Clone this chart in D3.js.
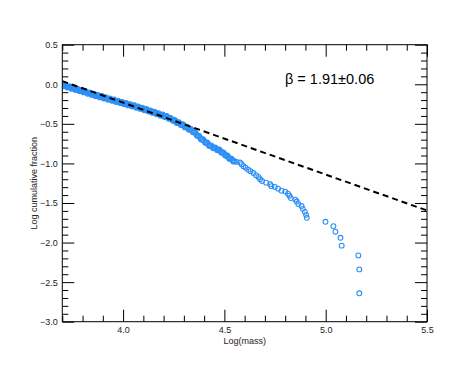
<!DOCTYPE html>
<html><head><meta charset="utf-8">
<script src="https://cdn.jsdelivr.net/npm/d3@7"></script>
<style>
html,body{margin:0;padding:0;background:#fff;}
svg{display:block;font-family:"Liberation Sans",Arial,Helvetica,sans-serif;}
</style></head>
<body><svg id="chart" width="463" height="371"></svg>
<script>
// ---- data ----
const logMass = [
3.70,3.71,3.72,3.73,3.74,3.75,3.76,3.77,3.78,3.79,
3.80,3.81,3.82,3.83,3.84,3.85,3.86,3.87,3.88,3.89,
3.90,3.91,3.92,3.93,3.94,3.95,3.96,3.97,3.98,3.99,
4.00,4.01,4.02,4.03,4.04,4.05,4.06,4.07,4.08,4.09,
4.10,4.11,4.12,4.13,4.14,4.15,4.16,4.17,4.18,4.19,
4.20,4.21,4.22,4.23,4.24,4.25,4.26,4.27,4.28,4.29,
4.30,4.31,4.32,4.33,4.34,4.35,4.36,4.37,4.38,4.39,
4.40,4.41,4.42,4.43,4.44,4.45,4.46,4.47,4.48,4.49,
4.50,4.51,4.52,4.53,4.54,4.55,4.56,
4.577,4.585,4.594,4.605,4.618,4.629,4.643,4.656,4.668,4.676,
4.686,4.706,4.726,4.732,4.749,4.765,4.782,4.800,4.814,4.821,
4.828,4.850,4.857,4.865,4.881,4.887,4.897,4.903,4.907,4.999,
5.038,5.048,5.073,5.079,5.161,5.166,5.166
];
const logCumFraction = [
-0.010,-0.018,-0.025,-0.033,-0.041,-0.049,-0.056,-0.064,-0.072,-0.080,
-0.087,-0.095,-0.103,-0.111,-0.118,-0.126,-0.134,-0.142,-0.150,-0.157,
-0.164,-0.171,-0.179,-0.186,-0.193,-0.201,-0.208,-0.215,-0.222,-0.230,
-0.237,-0.244,-0.251,-0.259,-0.266,-0.273,-0.280,-0.288,-0.295,-0.303,
-0.312,-0.320,-0.329,-0.337,-0.346,-0.354,-0.363,-0.372,-0.380,-0.389,
-0.397,-0.406,-0.416,-0.430,-0.443,-0.457,-0.470,-0.484,-0.497,-0.511,
-0.525,-0.540,-0.555,-0.570,-0.585,-0.603,-0.627,-0.651,-0.676,-0.697,
-0.717,-0.738,-0.758,-0.778,-0.791,-0.803,-0.816,-0.829,-0.842,-0.862,
-0.881,-0.901,-0.921,-0.941,-0.960,-0.972,-0.980,
-0.989,-1.010,-1.035,-1.054,-1.079,-1.098,-1.121,-1.149,-1.171,-1.199,
-1.222,-1.243,-1.264,-1.287,-1.297,-1.319,-1.344,-1.356,-1.382,-1.407,
-1.438,-1.457,-1.482,-1.514,-1.539,-1.574,-1.612,-1.650,-1.688,-1.738,
-1.792,-1.863,-1.940,-2.039,-2.162,-2.339,-2.641
];
// extra points in the crowded low-mass part of the distribution
const denseMass = [
3.705,3.715,3.725,3.735,3.745,3.755,3.765,3.775,3.785,3.795,
3.805,3.815,3.825,3.835,3.845,3.855,3.865,3.875,3.885,3.895,
3.905,3.915,3.925,3.935,3.945,3.955,3.965,3.975,3.985,3.995,
4.005,4.015,4.025,4.035,4.045,4.055,4.065,4.075,4.085,4.095,
4.105,4.115,4.125,4.135,4.145,4.155,4.165,4.175,4.185,4.195,
4.205,4.215,4.225,4.235,4.245,4.255,4.265,4.275,4.285,4.295,
4.305,4.315,4.325,4.335,4.345,4.355,4.365,4.375,4.385,4.395,
4.405,4.415,4.425,4.435,4.445,4.455,4.465,4.475,4.485,4.495,
4.505,4.515,4.525,4.535,4.545
];
const denseFraction = [
-0.026,-0.010,-0.041,-0.025,-0.057,-0.041,-0.072,-0.056,-0.088,-0.072,
-0.103,-0.087,-0.119,-0.103,-0.134,-0.118,-0.150,-0.134,-0.166,-0.149,
-0.180,-0.163,-0.195,-0.178,-0.209,-0.193,-0.224,-0.207,-0.238,-0.222,
-0.253,-0.236,-0.267,-0.251,-0.282,-0.265,-0.296,-0.280,-0.311,-0.296,
-0.328,-0.313,-0.345,-0.330,-0.362,-0.347,-0.380,-0.364,-0.397,-0.381,
-0.414,-0.399,-0.435,-0.425,-0.462,-0.452,-0.489,-0.479,-0.516,-0.506,
-0.545,-0.536,-0.575,-0.566,-0.606,-0.603,-0.651,-0.652,-0.699,-0.695,
-0.740,-0.736,-0.780,-0.773,-0.809,-0.798,-0.835,-0.824,-0.864,-0.860,
-0.903,-0.899,-0.943,-0.939,-0.978
];
// power-law fit line endpoints
const fitX = [3.70, 5.50];
const fitY = [0.040, -1.595];
const xTicks = [4.0, 4.5, 5.0, 5.5];
const yTicks = [-3.0, -2.5, -2.0, -1.5, -1.0, -0.5, 0.0, 0.5];
const xDomain = [3.7, 5.5];
const yDomain = [-3.0, 0.5];
const annotation = "\u03B2 = 1.91\u00B10.06";

// ---- layout ----
const svg = d3.select("#chart");
const L = 62.3, R = 427, T = 44.7, B = 321.7;
const x = d3.scaleLinear().domain(xDomain).range([L, R]);
const y = d3.scaleLinear().domain(yDomain).range([B, T]);
const fmt = d3.format(".1f");
const xMinor = d3.range(37, 56).map(d => d / 10).filter(v => !xTicks.some(t => Math.abs(t - v) < 1e-9));
const yMinor = d3.range(-30, 6).map(d => d / 10).filter(v => !yTicks.some(t => Math.abs(t - v) < 1e-9));

const defs = svg.append("defs");
defs.append("clipPath").attr("id", "clip").append("rect")
  .attr("x", L).attr("y", T).attr("width", R - L).attr("height", B - T);

function styleAxis(g) {
  g.selectAll(".domain").remove();
  g.selectAll(".tick line").attr("stroke", "#000").attr("stroke-width", 1);
  g.selectAll("text").attr("font-size", 9).attr("fill", "#222")
    .attr("font-family", "'Liberation Sans',Arial,sans-serif");
}
const MAJ = 12, MIN = 6;
// bottom
svg.append("g").attr("transform", `translate(0,${B})`)
  .call(d3.axisBottom(x).tickValues(xTicks).tickFormat(fmt).tickSizeInner(-MAJ).tickSizeOuter(0).tickPadding(4.5))
  .call(styleAxis);
svg.append("g").attr("transform", `translate(0,${B})`)
  .call(d3.axisBottom(x).tickValues(xMinor).tickFormat("").tickSizeInner(-MIN).tickSizeOuter(0))
  .call(styleAxis);
// top
svg.append("g").attr("transform", `translate(0,${T})`)
  .call(d3.axisTop(x).tickValues(xTicks).tickFormat("").tickSizeInner(-MAJ).tickSizeOuter(0))
  .call(styleAxis);
svg.append("g").attr("transform", `translate(0,${T})`)
  .call(d3.axisTop(x).tickValues(xMinor).tickFormat("").tickSizeInner(-MIN).tickSizeOuter(0))
  .call(styleAxis);
// left
svg.append("g").attr("transform", `translate(${L},0)`)
  .call(d3.axisLeft(y).tickValues(yTicks).tickFormat(fmt).tickSizeInner(-MAJ).tickSizeOuter(0).tickPadding(4.5))
  .call(styleAxis);
svg.append("g").attr("transform", `translate(${L},0)`)
  .call(d3.axisLeft(y).tickValues(yMinor).tickFormat("").tickSizeInner(-MIN).tickSizeOuter(0))
  .call(styleAxis);
// right
svg.append("g").attr("transform", `translate(${R},0)`)
  .call(d3.axisRight(y).tickValues(yTicks).tickFormat("").tickSizeInner(-MAJ).tickSizeOuter(0))
  .call(styleAxis);
svg.append("g").attr("transform", `translate(${R},0)`)
  .call(d3.axisRight(y).tickValues(yMinor).tickFormat("").tickSizeInner(-MIN).tickSizeOuter(0))
  .call(styleAxis);

// points
const pts = logMass.map((m, i) => ({m, f: logCumFraction[i]}))
  .concat(denseMass.map((m, i) => ({m, f: denseFraction[i]})));
svg.append("g").attr("clip-path", "url(#clip)")
  .selectAll("circle").data(pts).join("circle")
  .attr("cx", d => x(d.m)).attr("cy", d => y(d.f)).attr("r", 2.4)
  .attr("fill", "none").attr("stroke", "#2b8ff5").attr("stroke-width", 1.1);

// fit line
svg.append("line").attr("clip-path", "url(#clip)")
  .attr("x1", x(fitX[0])).attr("y1", y(fitY[0]))
  .attr("x2", x(fitX[1])).attr("y2", y(fitY[1]))
  .attr("stroke", "#000").attr("stroke-width", 2).attr("stroke-dasharray", "6,4");

// frame
svg.append("rect").attr("x", L).attr("y", T).attr("width", R - L).attr("height", B - T)
  .attr("fill", "none").attr("stroke", "#000").attr("stroke-width", 1);

// labels
svg.append("text").attr("x", (L + R) / 2).attr("y", 344).attr("text-anchor", "middle")
  .attr("font-size", 9).attr("fill", "#222").text("Log(mass)");
svg.append("text").attr("transform", `translate(37,${(T + B) / 2}) rotate(-90)`)
  .attr("text-anchor", "middle").attr("font-size", 9).attr("fill", "#222").text("Log cumulative fraction");
svg.append("text").attr("x", 285).attr("y", 84.3).attr("font-size", 14.5).attr("fill", "#000")
  .text(annotation);
</script></body></html>
